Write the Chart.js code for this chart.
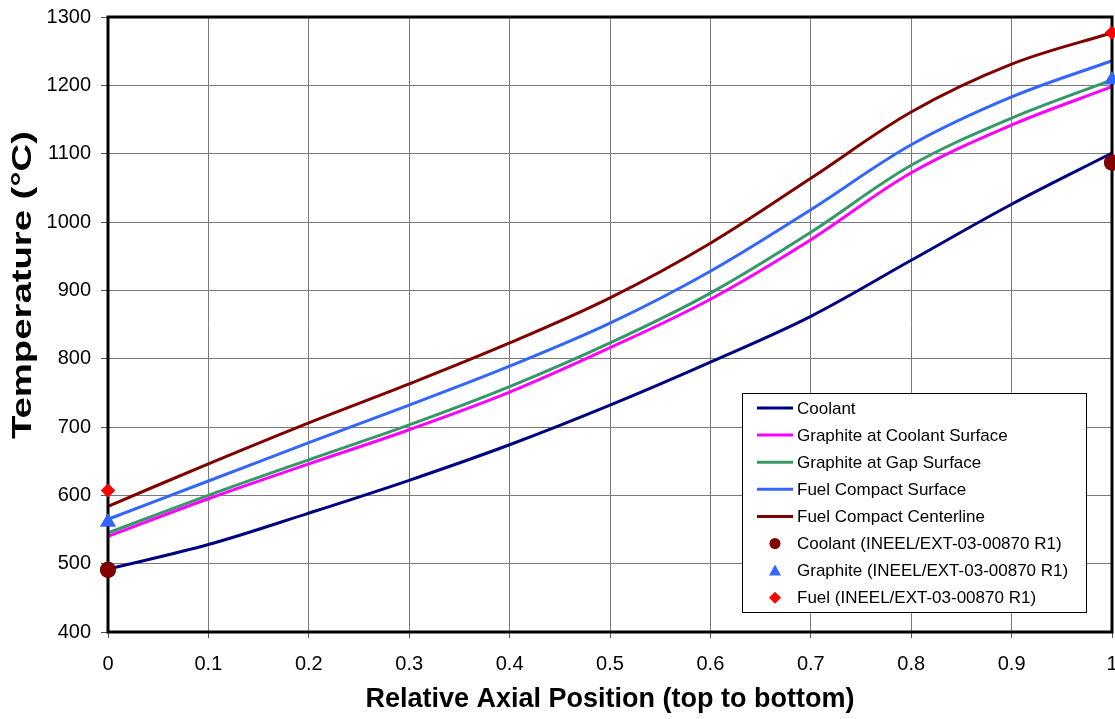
<!DOCTYPE html>
<html>
<head>
<meta charset="utf-8">
<title>Axial temperature profile</title>
<script src="https://cdn.jsdelivr.net/npm/chart.js@4.4.1/dist/chart.umd.min.js"></script>
<style>
  html, body { margin: 0; padding: 0; background: #fff; }
  #wrap { width: 1115px; height: 719px; position: relative; }
</style>
</head>
<body>
<div id="wrap"><canvas id="tempChart" width="1115" height="719"></canvas></div>
<script>
// relative axial position (top to bottom)
const positions = [0, 0.1, 0.2, 0.3, 0.4, 0.5, 0.6, 0.7, 0.8, 0.9, 1.0];

// calculated temperatures, °C
const coolant          = [492, 528, 574, 622, 674, 732, 795, 862, 944, 1026, 1101];
const graphiteCoolant  = [540, 595, 646, 696, 751, 816, 887, 974, 1072, 1142, 1198];
const graphiteGap      = [545, 600, 652, 703, 759, 823, 896, 985, 1083, 1152, 1208];
const compactSurface   = [565, 621, 677, 732, 789, 852, 928, 1018, 1113, 1183, 1236];
const compactCenter    = [584, 646, 706, 763, 823, 889, 969, 1064, 1161, 1231, 1277];

// reference values (INEEL/EXT-03-00870 R1) at inlet and outlet
const refPositions = [0, 1];
const refCoolant   = [491, 1087];
const refGraphite  = [561, 1208];
const refFuel      = [607, 1277];

const xTicks = [0, 0.1, 0.2, 0.3, 0.4, 0.5, 0.6, 0.7, 0.8, 0.9, 1];

const FONT = "'Liberation Sans', Arial, Helvetica, sans-serif";
const RIGHT_GAP = 3;   // px between plot frame and canvas edge

function toXY(xs, ys) {
    return xs.map((x, i) => ({ x: x, y: ys[i] }));
}

function lineSet(label, values, color) {
    return {
        label: label,
        data: toXY(positions, values),
        showLine: true,
        borderColor: color,
        backgroundColor: color,
        borderWidth: 3,
        pointRadius: 0,
        tension: 0.35,
        fill: false,
        clip: false,
        kind: "line"
    };
}

function markerSet(label, values, color, style, radius) {
    return {
        label: label,
        data: toXY(refPositions, values),
        showLine: false,
        borderColor: color,
        backgroundColor: color,
        pointStyle: style,
        pointRadius: radius,
        pointBorderWidth: 0,
        clip: false,
        kind: "marker"
    };
}

// stretch the plot area out to the right edge (the "1" label may hang over)
const stretchPlugin = {
    id: "stretchRight",
    afterLayout(chart) {
        const right = chart.width - RIGHT_GAP;
        const x = chart.scales.x;
        x.right = right;
        x.width = right - x.left;
        x.configure();
        chart.chartArea.right = right;
        chart.chartArea.width = right - chart.chartArea.left;
    }
};

// black frame round the plot area
const framePlugin = {
    id: "frame",
    afterDatasetsDraw(chart) {
        const { ctx, chartArea: a } = chart;
        ctx.save();
        ctx.strokeStyle = "#000";
        ctx.lineWidth = 3;
        ctx.strokeRect(a.left, a.top, a.right - a.left, a.bottom - a.top);
        ctx.restore();
    },
    afterDraw(chart) {
        // markers sit on top of the frame
        chart.data.datasets.forEach((ds, i) => {
            if (ds.kind === "marker") chart.getDatasetMeta(i).controller.draw();
        });
    }
};

// y axis title, stretched along its length like the original export
const yTitlePlugin = {
    id: "yTitle",
    afterDraw(chart) {
        const { ctx } = chart;
        const text = "Temperature (°C)";
        const span = 308;
        ctx.save();
        ctx.font = "bold 27px " + FONT;
        const w = ctx.measureText(text).width;
        ctx.translate(23.5, 285);
        ctx.rotate(-Math.PI / 2);
        ctx.scale(span / w, 1);
        ctx.fillStyle = "#000";
        ctx.textAlign = "center";
        ctx.textBaseline = "middle";
        ctx.fillText(text, 0, 0);
        ctx.restore();
    }
};

// boxed legend inside the lower right of the plot
const legendPlugin = {
    id: "boxLegend",
    afterDraw(chart) {
        const { ctx } = chart;
        const left = 742, top = 393, width = 344, height = 219;
        const rowH = 27.1;
        ctx.save();
        ctx.fillStyle = "#fff";
        ctx.fillRect(left, top, width, height);
        ctx.strokeStyle = "#000";
        ctx.lineWidth = 1;
        ctx.strokeRect(left + 0.5, top + 0.5, width, height);
        ctx.font = "17px " + FONT;
        ctx.textBaseline = "middle";
        chart.data.datasets.forEach((ds, i) => {
            const y = top + 15 + i * rowH;
            if (ds.kind === "line") {
                ctx.strokeStyle = ds.borderColor;
                ctx.lineWidth = 3;
                ctx.beginPath();
                ctx.moveTo(757, y);
                ctx.lineTo(793, y);
                ctx.stroke();
            } else {
                ctx.fillStyle = ds.backgroundColor;
                const cx = 775;
                ctx.beginPath();
                if (ds.pointStyle === "circle") {
                    ctx.arc(cx, y, 5.5, 0, Math.PI * 2);
                } else if (ds.pointStyle === "triangle") {
                    ctx.moveTo(cx, y - 6);
                    ctx.lineTo(cx + 6, y + 5);
                    ctx.lineTo(cx - 6, y + 5);
                    ctx.closePath();
                } else {
                    ctx.moveTo(cx, y - 6);
                    ctx.lineTo(cx + 6, y);
                    ctx.lineTo(cx, y + 6);
                    ctx.lineTo(cx - 6, y);
                    ctx.closePath();
                }
                ctx.fill();
            }
            ctx.fillStyle = "#000";
            ctx.fillText(ds.label, 797, y + 1);
        });
        ctx.restore();
    }
};

const ctx = document.getElementById("tempChart").getContext("2d");

const chart = new Chart(ctx, {
    type: "scatter",
    data: {
        datasets: [
            lineSet("Coolant", coolant, "#000080"),
            lineSet("Graphite at Coolant Surface", graphiteCoolant, "#FF00FF"),
            lineSet("Graphite at Gap Surface", graphiteGap, "#339966"),
            lineSet("Fuel Compact Surface", compactSurface, "#3366FF"),
            lineSet("Fuel Compact Centerline", compactCenter, "#800000"),
            markerSet("Coolant (INEEL/EXT-03-00870 R1)", refCoolant, "#800000", "circle", 8),
            markerSet("Graphite (INEEL/EXT-03-00870 R1)", refGraphite, "#3366FF", "triangle", 9),
            markerSet("Fuel (INEEL/EXT-03-00870 R1)", refFuel, "#FF0000", "rectRot", 7)
        ]
    },
    options: {
        responsive: false,
        animation: false,
        events: [],
        layout: { padding: { left: 0, right: RIGHT_GAP, top: 17, bottom: 0 } },
        plugins: {
            legend: { display: false },
            tooltip: { enabled: false }
        },
        scales: {
            x: {
                type: "linear",
                min: 0,
                max: 1,
                afterBuildTicks(scale) {
                    scale.ticks = xTicks.map(v => ({ value: v }));
                },
                afterFit(scale) { scale.height = 87; },
                grid: { color: "#7a7a7a", lineWidth: 1, tickLength: 6, tickColor: "#555" },
                border: { display: false },
                ticks: {
                    color: "#000",
                    padding: 14,
                    maxRotation: 0,
                    font: { family: FONT, size: 20 },
                    callback: v => String(Math.round(v * 10) / 10)
                },
                title: {
                    display: true,
                    text: "Relative Axial Position (top to bottom)",
                    color: "#000",
                    padding: { top: 0, bottom: 3 },
                    font: { family: FONT, size: 27, weight: "bold" }
                }
            },
            y: {
                min: 400,
                max: 1300,
                afterFit(scale) {
                    scale.width = 108;
                    scale.paddingTop = 0;
                    scale.paddingBottom = 0;
                },
                grid: { color: "#7a7a7a", lineWidth: 1, tickLength: 7, tickColor: "#555" },
                border: { display: false },
                ticks: {
                    stepSize: 100,
                    color: "#000",
                    padding: 10,
                    font: { family: FONT, size: 20 },
                    callback: v => String(v)
                }
            }
        }
    },
    plugins: [stretchPlugin, framePlugin, yTitlePlugin, legendPlugin]
});
</script>
</body>
</html>
